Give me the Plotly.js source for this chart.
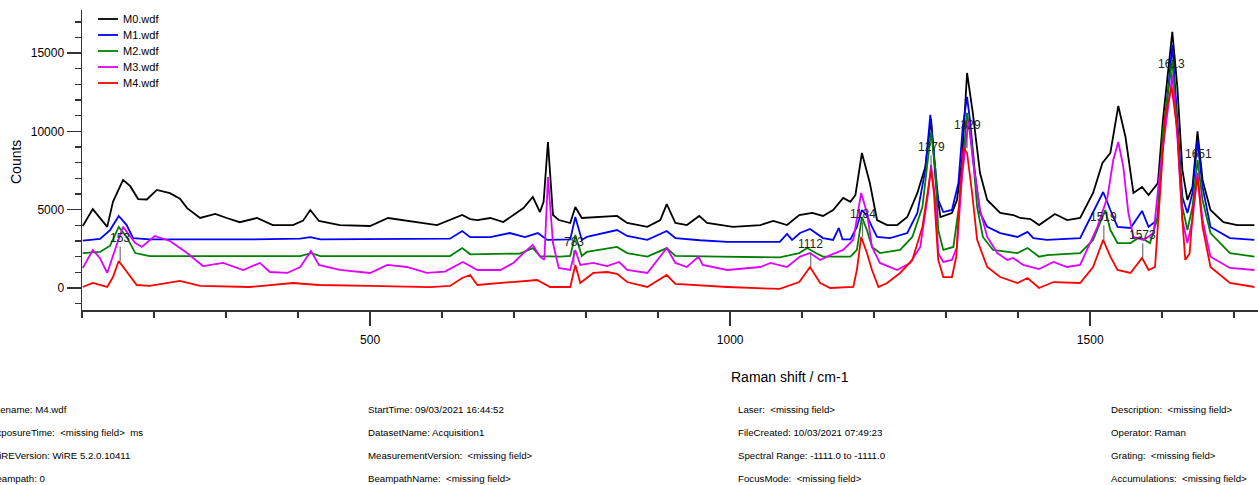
<!DOCTYPE html>
<html>
<head>
<meta charset="utf-8">
<script src="https://cdn.plot.ly/plotly-3.0.1.min.js"></script>
<style>
html,body{margin:0;padding:0;background:#fff;}
#chart{width:1258px;height:485px;}
</style>
</head>
<body>
<div id="chart"></div>
<script>
// ---- data (Raman shift in cm-1, counts) ----
const seriesNames = ["M0.wdf", "M1.wdf", "M2.wdf", "M3.wdf", "M4.wdf"];

const shiftM0 = [101,115,135,143,157,167,178,190,204,222,236,246,264,285,301,319,343,365,393,407,417,429,458,500,525,551,593,628,639,649,667,685,713,726,736,741,747,754,762,778,785,794,824,843,857,885,903,912,924,940,957,968,1004,1042,1060,1079,1096,1114,1129,1143,1157,1167,1174,1183,1194,1204,1218,1232,1246,1260,1271,1279,1286,1292,1308,1315,1322,1329,1337,1347,1357,1375,1393,1403,1417,1429,1451,1468,1486,1504,1517,1528,1539,1549,1560,1572,1581,1594,1601,1614,1621,1628,1635,1642,1649,1656,1667,1685,1704,1728];
const countsM0 = [3960,5040,3900,5500,6900,6500,5680,5650,6260,6060,5700,5100,4470,4730,4470,4200,4470,4020,4020,4300,4980,4280,4020,3960,4470,4280,4020,4660,4400,4340,4470,4210,5110,5810,4850,5500,9320,4660,4340,4150,5170,4470,4530,4600,4150,3900,4340,5360,4150,4020,4600,4150,3900,4020,4280,4020,4660,4790,4600,4980,5750,5500,5940,8620,6700,4340,4020,4020,4530,6070,7730,10800,6500,4530,4790,5620,8170,13730,11180,7340,5620,4790,4660,4470,4400,4020,4730,4340,4470,6070,7980,8620,11620,9640,6070,6450,5940,6700,10730,16350,12840,7540,5620,6450,10000,6900,4980,4210,4020,4020];

const shiftM1 = [101,125,139,151,162,171,194,264,333,403,417,431,542,611,628,639,667,694,715,733,746,764,778,785,794,801,843,857,885,912,924,958,996,1042,1069,1079,1086,1097,1111,1129,1143,1151,1156,1167,1176,1183,1190,1197,1204,1222,1246,1260,1271,1278,1283,1289,1296,1308,1317,1323,1329,1333,1340,1347,1357,1375,1399,1413,1421,1440,1486,1507,1518,1528,1538,1556,1572,1581,1593,1600,1614,1621,1628,1635,1642,1649,1656,1667,1694,1728];
const countsM1 = [3020,3130,3700,4600,4020,3190,3100,3100,3100,3150,3250,3100,3150,3150,3640,3250,3250,3510,3250,3510,3070,3070,3100,4530,3070,3260,3700,3320,3070,3640,3190,3050,2940,2940,2940,3450,3070,3510,3770,3190,3070,3830,3100,3100,3900,4980,4600,3900,3260,3190,3510,4790,7540,11050,8620,5620,4850,4980,6700,10280,12200,10730,7340,4790,3900,3510,3260,3580,3190,3070,3190,5110,6130,4980,3900,3830,4920,3900,4340,8620,15520,10730,5810,4790,6070,9400,6450,3900,3190,3070];

const shiftM2 = [101,125,139,151,162,174,194,333,403,418,431,611,628,639,708,726,736,764,778,785,794,801,843,857,885,912,924,986,1069,1096,1107,1119,1129,1167,1176,1183,1190,1197,1208,1236,1253,1267,1279,1285,1289,1296,1310,1319,1329,1336,1343,1351,1365,1399,1413,1429,1440,1486,1504,1517,1521,1528,1538,1556,1569,1583,1594,1601,1614,1621,1628,1635,1642,1649,1656,1667,1694,1728];
const countsM2 = [2230,2300,2700,3900,3260,2230,2040,2040,2040,2230,2040,2040,2550,2150,2200,2550,2040,2000,2050,3380,2050,2300,2620,2230,2000,2550,2050,2000,1950,2230,2550,2230,2000,2000,2430,4530,3700,2620,2230,2430,3260,5170,9960,7540,3700,2430,2620,5620,11180,9000,5170,3260,2430,2230,2550,2000,2100,2230,3070,4530,4980,3700,2870,2870,3260,2870,4530,10000,14560,10090,5170,3700,5170,8170,5620,3510,2230,2000];

const shiftM3 = [101,115,125,135,149,157,174,183,201,222,246,268,296,324,347,361,385,403,418,429,458,500,524,551,579,604,629,649,681,699,713,726,736,742,747,754,762,778,785,792,810,829,846,857,885,912,924,940,956,962,996,1042,1056,1079,1097,1111,1125,1139,1157,1171,1182,1190,1197,1208,1232,1250,1264,1275,1279,1285,1289,1296,1308,1315,1322,1331,1337,1347,1357,1371,1385,1393,1407,1429,1449,1468,1486,1510,1524,1532,1539,1546,1553,1560,1574,1588,1597,1614,1621,1628,1635,1642,1649,1656,1667,1694,1728];
const countsM3 = [1280,2430,1900,960,2870,3900,2870,2620,3320,3000,2230,1400,1600,1150,1600,1020,960,1340,2360,1470,1150,960,1470,1340,960,1050,1660,1150,1150,1600,2230,2750,2000,1800,7090,2870,1280,1150,2430,1470,1600,1400,1660,1150,960,2550,1600,1340,2000,1470,1150,1340,1600,1340,2000,2230,1790,2100,2430,3070,6070,4790,2620,1600,1150,1600,2620,6070,7860,5600,2230,1660,1790,2620,7090,10730,8170,4980,3260,2230,1790,1920,1470,1210,1660,1340,1470,3900,5810,8170,9320,7730,4790,3260,3070,3510,7540,13600,9640,4340,2870,4340,7340,4340,2000,1280,1150];

const shiftM4 = [101,115,135,143,151,167,176,194,236,264,333,393,429,500,583,611,628,639,649,697,732,750,778,785,792,810,829,843,857,885,912,924,996,1069,1096,1104,1111,1125,1139,1171,1176,1182,1190,1197,1206,1218,1236,1253,1267,1279,1283,1289,1296,1308,1314,1319,1324,1329,1336,1343,1357,1375,1399,1413,1429,1449,1486,1504,1518,1528,1538,1556,1572,1581,1590,1597,1604,1613,1621,1628,1632,1638,1643,1649,1656,1667,1694,1728];
const countsM4 = [64,320,64,700,1720,700,190,130,450,130,64,320,190,130,60,130,640,830,190,380,510,64,64,1470,320,960,1020,900,380,64,830,260,64,-60,380,900,1340,320,0,64,1150,3260,2230,1150,60,320,960,1790,3900,7540,6070,1790,700,700,2000,6070,8940,8620,6070,3070,1340,700,320,640,0,380,320,1340,3070,2000,1150,960,1920,1150,1340,6000,10920,12840,10090,4340,1790,2200,5170,7090,3900,1340,320,64];

const peakShifts = [153, 783, 1112, 1184, 1279, 1329, 1519, 1573, 1613, 1651];

const xTickVals = [500, 1000, 1500];
const yTickVals = [0, 5000, 10000, 15000];

const footerCol1 = ["Filename: M4.wdf", "ExposureTime:&nbsp; &lt;missing field&gt;&nbsp; ms", "WiREVersion: WiRE 5.2.0.10411", "Beampath: 0"];
const footerCol2 = ["StartTime: 09/03/2021 16:44:52", "DatasetName: Acquisition1", "MeasurementVersion:&nbsp; &lt;missing field&gt;", "BeampathName:&nbsp; &lt;missing field&gt;"];
const footerCol3 = ["Laser:&nbsp; &lt;missing field&gt;", "FileCreated: 10/03/2021 07:49:23", "Spectral Range: -1111.0 to -1111.0", "FocusMode:&nbsp; &lt;missing field&gt;"];
const footerCol4 = ["Description:&nbsp; &lt;missing field&gt;", "Operator: Raman", "Grating:&nbsp; &lt;missing field&gt;", "Accumulations:&nbsp; &lt;missing field&gt;"];

// ---- build ----
const FONT = "Liberation Sans, Arial, sans-serif";
const colors = ["#000000", "#0000ff", "#008000", "#e000ff", "#ff0000"];
const shifts = [shiftM0, shiftM1, shiftM2, shiftM3, shiftM4];
const counts = [countsM0, countsM1, countsM2, countsM3, countsM4];

const traces = seriesNames.map((n, i) => ({
  type: "scatter", mode: "lines", name: n,
  x: shifts[i], y: counts[i],
  line: {color: colors[i], width: 1.8},
  hoverinfo: "skip", showlegend: false
}));

const L = 82, W = 1176, T = 10, H = 300;
const px2paperX = p => (p - L) / W;
const py2paperY = p => (T + H - p) / H;

const annotations = [];
const shapes = [];

// compact legend (top-left), entries from series names and colours
const legendRows = [19, 35, 51, 67, 83];
seriesNames.forEach((n, i) => {
  shapes.push({
    type: "line", xref: "paper", yref: "paper",
    x0: px2paperX(98), x1: px2paperX(118), y0: py2paperY(legendRows[i]), y1: py2paperY(legendRows[i]),
    line: {color: colors[i], width: 1.8}
  });
  annotations.push({
    x: px2paperX(121), y: py2paperY(legendRows[i]), xref: "paper", yref: "paper",
    xanchor: "left", yanchor: "middle", text: n, showarrow: false,
    font: {family: FONT, size: 11, color: "#000"}
  });
});

// peak labels placed on M4 peaks
peakShifts.forEach(ps => {
  let best = -Infinity;
  shiftM4.forEach((s, k) => { if (Math.abs(s - ps) <= 7 && countsM4[k] > best) best = countsM4[k]; });
  annotations.push({
    x: ps, y: best, xref: "x", yref: "y", text: String(ps),
    showarrow: true, arrowhead: 0, arrowwidth: 1, arrowcolor: "#555",
    ax: 0, ay: -23, standoff: 0,
    font: {family: FONT, size: 12, color: "#222"}
  });
});

annotations.push({
  x: px2paperX(16), y: py2paperY(162), xref: "paper", yref: "paper", text: "Counts",
  xanchor: "center", yanchor: "middle",
  textangle: -90, showarrow: false,
  font: {family: FONT, size: 14, color: "#000"}
});
annotations.push({
  x: px2paperX(790), y: py2paperY(377), xref: "paper", yref: "paper", text: "Raman shift / cm-1",
  xanchor: "center", yanchor: "middle", showarrow: false,
  font: {family: FONT, size: 14, color: "#000"}
});

const rowsY = [409, 432, 455, 478];
const colX = [-12, 366, 736, 1109];
[footerCol1, footerCol2, footerCol3, footerCol4].forEach((col, c) => {
  col.forEach((txt, r) => {
    annotations.push({
      x: px2paperX(colX[c]), y: py2paperY(rowsY[r]), xref: "paper", yref: "paper",
      xanchor: "left", yanchor: "middle", text: txt, showarrow: false,
      font: {family: FONT, size: 9.7, color: "#000"}
    });
  });
});

const layout = {
  width: 1258, height: 485,
  margin: {l: L, r: 1258 - L - W, t: T, b: 485 - T - H, pad: 0},
  paper_bgcolor: "#fff", plot_bgcolor: "#fff",
  showlegend: false,
  xaxis: {
    range: [100, 1733], showgrid: false, zeroline: false,
    showline: true, linecolor: "#333", linewidth: 1.5, mirror: false,
    ticks: "outside", tickvals: xTickVals, ticktext: xTickVals.map(String),
    ticklen: 14, tickwidth: 1.5, tickcolor: "#333", ticklabelstandoff: 4,
    minor: {dtick: 100, tick0: 0, ticks: "outside", ticklen: 6, tickwidth: 1.5, tickcolor: "#333", showgrid: false},
    tickfont: {family: FONT, size: 12, color: "#000"}
  },
  yaxis: {
    range: [-1405, 17750], showgrid: false, zeroline: false,
    showline: true, linecolor: "#333", linewidth: 1.5, mirror: false,
    ticks: "outside", tickvals: yTickVals, ticktext: yTickVals.map(String),
    ticklen: 14, tickwidth: 1.5, tickcolor: "#333",
    minor: {dtick: 1000, tick0: 0, ticks: "outside", ticklen: 6, tickwidth: 1.5, tickcolor: "#333", showgrid: false},
    tickfont: {family: FONT, size: 12, color: "#000"}
  },
  shapes: shapes,
  annotations: annotations
};

Plotly.newPlot("chart", traces, layout, {displayModeBar: false, staticPlot: true});
</script>
</body>
</html>
